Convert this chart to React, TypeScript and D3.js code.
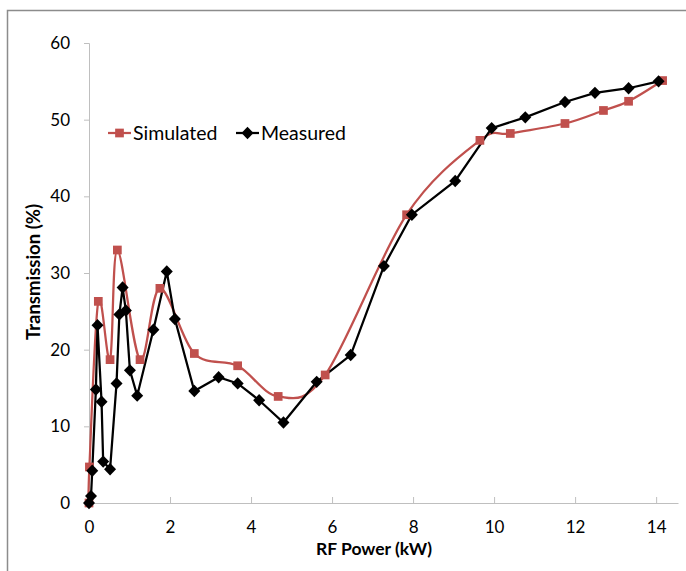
import React, { useEffect, useRef } from 'react';
import * as d3 from 'd3';

// RF power (kW) / transmission (%)
const simPower = [0, 0.01, 0.23, 0.52, 0.7, 1.26, 1.75, 2.6, 3.67, 4.67, 5.83, 7.84, 9.65, 10.4, 11.75, 12.7, 13.32, 14.16];
const simTrans = [0, 4.7, 26.3, 18.7, 33.0, 18.7, 28.0, 19.5, 17.9, 13.9, 16.7, 37.6, 47.3, 48.2, 49.5, 51.2, 52.4, 55.1];

const measPower = [0, 0.05, 0.08, 0.17, 0.21, 0.31, 0.35, 0.52, 0.68, 0.75, 0.83, 0.91, 1.01, 1.19, 1.59, 1.92, 2.12, 2.6, 3.2, 3.67, 4.2, 4.8, 5.62, 6.46, 7.28, 7.97, 9.04, 9.94, 10.77, 11.75, 12.49, 13.32, 14.06];
const measTrans = [0, 0.9, 4.2, 14.8, 23.2, 13.2, 5.4, 4.4, 15.6, 24.6, 28.1, 25.1, 17.3, 14.0, 22.6, 30.2, 24.0, 14.6, 16.4, 15.6, 13.4, 10.5, 15.8, 19.3, 30.9, 37.6, 42.0, 48.9, 50.3, 52.3, 53.5, 54.1, 55.0];

const xTicks = [0, 2, 4, 6, 8, 10, 12, 14];
const yTicks = [0, 10, 20, 30, 40, 50, 60];

const W = 686;
const H = 571;
const RED = '#C0504D';
const FONT = 'Lato, "Open Sans", sans-serif';

const App = () => {
  const ref = useRef<SVGSVGElement>(null);

  useEffect(() => {
    const svg = d3.select(ref.current);
    svg.selectAll('*').remove();

    // chart area frame
    svg.append('path')
      .attr('d', `M${W},10.5 H7.5 V${H}`)
      .attr('fill', 'none')
      .attr('stroke', '#8c8c8c')
      .attr('stroke-width', 1.5);

    const x = d3.scaleLinear().domain([0, 14.54]).range([89, 678]);
    const y = d3.scaleLinear().domain([0, 60]).range([503, 43]);

    // axes
    const xAxis = svg.append('g').attr('transform', `translate(0,${y(0)})`)
      .call(d3.axisBottom(x).tickValues(xTicks).tickSize(0).tickPadding(18));
    xAxis.select('.domain').attr('stroke', '#bfbfbf');
    xAxis.selectAll('.tick line').attr('y1', -6).attr('y2', 0).attr('stroke', '#bfbfbf');

    const yAxis = svg.append('g').attr('transform', `translate(${x(0)},0)`)
      .call(d3.axisLeft(y).tickValues(yTicks).tickSize(5).tickPadding(14));
    yAxis.select('.domain').attr('stroke', '#bfbfbf');
    yAxis.selectAll('.tick line').attr('stroke', '#bfbfbf');

    svg.selectAll('.tick text')
      .attr('font-family', FONT)
      .attr('font-size', 17)
      .attr('fill', '#000');

    // axis titles
    svg.append('text')
      .attr('x', 374).attr('y', 555)
      .attr('text-anchor', 'middle')
      .attr('font-family', FONT).attr('font-size', 17.5).attr('font-weight', 'bold')
      .text('RF Power (kW)');
    svg.append('text')
      .attr('transform', `translate(40,272) rotate(-90)`)
      .attr('text-anchor', 'middle')
      .attr('font-family', FONT).attr('font-size', 18.5).attr('font-weight', 'bold')
      .text('Transmission (%)');

    const sim = simPower.map((p, i) => [p, simTrans[i]] as [number, number]);
    const meas = measPower.map((p, i) => [p, measTrans[i]] as [number, number]);

    const smooth = d3.line<[number, number]>()
      .x(d => x(d[0])).y(d => y(d[1]))
      .curve(d3.curveCardinal.tension(0));
    const straight = d3.line<[number, number]>()
      .x(d => x(d[0])).y(d => y(d[1]));

    svg.append('path').attr('d', smooth(sim))
      .attr('fill', 'none').attr('stroke', RED).attr('stroke-width', 2.25);
    svg.append('path').attr('d', straight(meas))
      .attr('fill', 'none').attr('stroke', '#000').attr('stroke-width', 2.25);

    const sq = d3.symbol().type(d3.symbolSquare).size(76);
    const dia = 'M0,-6.2L6,0L0,6.2L-6,0Z';

    svg.append('g').selectAll('path').data(sim).join('path')
      .attr('d', sq)
      .attr('transform', d => `translate(${x(d[0])},${y(d[1])})`)
      .attr('fill', RED);
    svg.append('g').selectAll('path').data(meas).join('path')
      .attr('d', dia)
      .attr('transform', d => `translate(${x(d[0])},${y(d[1])})`)
      .attr('fill', '#000');

    // legend
    const lg = svg.append('g').attr('transform', 'translate(0,133)');
    lg.append('line').attr('x1', 108).attr('x2', 131).attr('stroke', RED).attr('stroke-width', 2.25);
    lg.append('path').attr('d', sq).attr('transform', 'translate(119.5,0)').attr('fill', RED);
    lg.append('text').attr('x', 133).attr('y', 6.5)
      .attr('font-family', FONT).attr('font-size', 19.5).text('Simulated');
    lg.append('line').attr('x1', 236).attr('x2', 259).attr('stroke', '#000').attr('stroke-width', 2.25);
    lg.append('path').attr('d', dia).attr('transform', 'translate(247.5,0)').attr('fill', '#000');
    lg.append('text').attr('x', 261).attr('y', 6.5)
      .attr('font-family', FONT).attr('font-size', 19.5).text('Measured');
  }, []);

  return (
    <svg ref={ref} width={W} height={H}
      style={{ position: 'absolute', left: 0, top: 0, background: '#fff' }} />
  );
};

export default App;
